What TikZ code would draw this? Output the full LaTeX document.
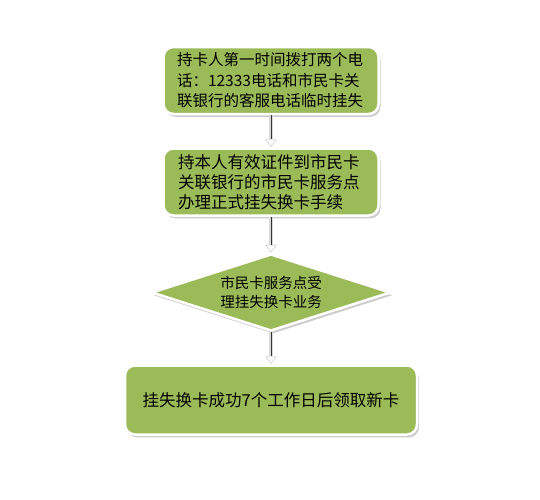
\documentclass[tikz,border=0pt]{standalone}
\usepackage{fontspec}
\newfontfamily\cjk{Noto Sans CJK SC}
\usetikzlibrary{positioning,shapes.geometric,shadows,arrows.meta}
\definecolor{olivegreen}{RGB}{155,187,89}

\begin{document}
\begin{tikzpicture}[x=1pt,y=1pt,
        stepnode/.style={rounded corners=10pt, draw=white, line width=2.5pt, fill=olivegreen,
            drop shadow={opacity=0.4, shadow xshift=2pt, shadow yshift=-2.8pt, fill=black!50}, text=black},
        choicenode/.style={diamond, aspect=3.05, draw=white, line width=2.5pt, fill=olivegreen,
            drop shadow={opacity=0.4, shadow xshift=2pt, shadow yshift=-2.8pt, fill=black!50}, inner sep=0pt, align=center},
        flowarrow/.style={draw=gray!30, line width=4pt, -{Triangle[width=12pt,length=8pt,line width=0.8pt,fill=white]}},
        arrowcore/.style={draw=black!80, line width=0.8pt, shorten >=8pt}]
        \useasboundingbox (0,0) rectangle (540,-499);
        \node[stepnode, minimum width=215pt, minimum height=67pt, text width=188pt, align=left,
            font=\cjk\fontsize{15.5}{20.5}\selectfont] (callbank) at (271,-80.5)
            {持卡人第一时间拨打两个电\\话：12333电话和市民卡关\\联银行的客服电话临时挂失};
        \node[stepnode, minimum width=215pt, minimum height=67pt, text width=186pt, align=left,
            font=\cjk\fontsize{16.5}{20}\selectfont] (visitbank) [below=32pt of callbank]
            {持本人有效证件到市民卡\\关联银行的市民卡服务点\\办理正式挂失换卡手续};
        \node[choicenode, minimum width=239pt, minimum height=77pt,
            font=\cjk\fontsize{14.5}{19}\selectfont] (acceptloss) [below=36pt of visitbank]
            {市民卡服务点受\\理挂失换卡业务};
        \node[stepnode, minimum width=292pt, minimum height=69pt,
            font=\cjk\fontsize{16.5}{20}\selectfont] (newcard) [below=32pt of acceptloss]
            {挂失换卡成功7个工作日后领取新卡};
        \draw[flowarrow] (callbank.south) -- (visitbank.north);
        \draw[arrowcore] (callbank.south) -- (visitbank.north);
        \draw[flowarrow] (visitbank.south) -- (acceptloss.north);
        \draw[arrowcore] (visitbank.south) -- (acceptloss.north);
        \draw[flowarrow] (acceptloss.south) -- (newcard.north);
        \draw[arrowcore] (acceptloss.south) -- (newcard.north);
\end{tikzpicture}
\end{document}
